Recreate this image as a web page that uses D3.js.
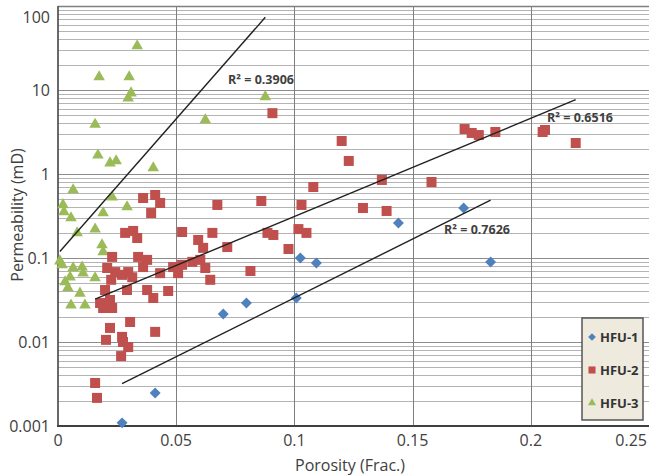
<!DOCTYPE html>
<html>
<head>
<meta charset="utf-8">
<script src="https://cdn.jsdelivr.net/npm/d3@7"></script>
<style>
body{margin:0;background:#fff;}
svg{display:block;font-family:"Open Sans",sans-serif;}
.tick_lbl{font-size:16px;fill:#404040;}
.axis_title{font-size:16px;fill:#404040;}
.r2_lbl{font-size:12.5px;font-weight:bold;fill:#404040;}
.legend_lbl{font-size:13px;font-weight:bold;fill:#333;}
</style>
</head>
<body>
<svg></svg>
<script>
// series names / colours
const series_names = ['HFU-1','HFU-2','HFU-3'];
const series_colors = ['#4f81bd','#c0504d','#9bbb59'];

// HFU-1 (porosity frac, permeability mD)
const hfu1_phi = [0.0271,0.0411,0.0699,0.0797,0.1008,0.1025,0.1093,0.144,0.1716,0.183];
const hfu1_k   = [0.00109,0.00247,0.0216,0.0291,0.0334,0.100,0.087,0.261,0.394,0.0896];

// HFU-2
const hfu2_phi = [0.0360,0.0411,0.0432,0.0394,0.0284,0.0318,0.0335,0.0525,0.0653,0.0593,
                  0.0614,0.0229,0.0339,0.0377,0.0360,0.0208,0.0242,0.0271,0.0297,0.0314,
                  0.0225,0.0432,0.0487,0.0525,0.0568,0.0602,0.0623,0.0644,0.0508,0.0466,
                  0.0377,0.0403,0.0292,0.0199,0.0178,0.0191,0.0229,0.0220,0.0305,0.0220,
                  0.0203,0.0271,0.0275,0.0297,0.0267,0.0411,0.0157,0.0165,0.108,0.0674,
                  0.0860,0.103,0.0716,0.0886,0.0911,0.1017,0.1051,0.0975,0.0814,0.0907,
                  0.120,0.123,0.137,0.129,0.139,0.158,0.172,0.175,0.178,0.185,
                  0.205,0.206,0.219];
const hfu2_k   = [0.518,0.562,0.452,0.343,0.199,0.210,0.173,0.204,0.199,0.164,
                  0.132,0.103,0.103,0.095,0.078,0.076,0.068,0.063,0.068,0.059,
                  0.055,0.066,0.078,0.083,0.090,0.095,0.076,0.055,0.066,0.0405,
                  0.0416,0.0334,0.0416,0.0416,0.0291,0.0254,0.0254,0.0316,0.0173,0.0147,
                  0.0106,0.0115,0.0100,0.0087,0.0068,0.0132,0.00325,0.00216,0.70,0.428,
                  0.477,0.428,0.135,0.199,0.188,0.221,0.199,0.128,0.070,5.3,
                  2.47,1.43,0.849,0.394,0.363,0.803,3.43,3.08,2.91,3.16,
                  3.16,3.34,2.34];

// HFU-3
const hfu3_phi = [0.0335,0.0174,0.0301,0.0309,0.0297,0.0157,0.0169,0.0220,0.0246,0.0403,
                  0.0623,0.0877,0.0064,0.0021,0.0025,0.0055,0.0191,0.0292,0.0229,0.0081,
                  0.0157,0.0186,0.0191,0.0008,0.0017,0.0064,0.0102,0.0106,0.0051,0.0030,
                  0.0157,0.0093,0.0042,0.0055,0.0114];
const hfu3_k   = [33.4,14.3,14.3,9.2,8.0,3.9,1.68,1.35,1.43,1.18,
                  4.4,8.3,0.645,0.43,0.353,0.30,0.344,0.405,0.53,0.199,
                  0.221,0.143,0.118,0.092,0.083,0.076,0.078,0.066,0.059,0.052,
                  0.058,0.038,0.044,0.0275,0.0275];

// axis ticks
const x_ticks = [0,0.05,0.1,0.15,0.2,0.25];
const x_tick_labels = ['0','0.05','0.1','0.15','0.2','0.25'];
const y_ticks = [0.001,0.01,0.1,1,10,100];
const y_tick_labels = ['0.001','0.01','0.1','1','10','100'];
const r2_labels = ['R\u00b2 = 0.7626','R\u00b2 = 0.6516','R\u00b2 = 0.3906'];

// layout
const W = 649, H = 475;
const plot = {l:58, r:649, t:6, b:426};
const r2_pos = [[444,234],[547,122],[228,84]];

function init_draw(w,h){
  return d3.select("svg").attr("width",w).attr("height",h);
}
const svg = init_draw(W,H);
const x_scale = d3.scaleLinear().domain([0,0.25]).range([plot.l,plot.r]);
const y_scale = d3.scaleLog().domain([0.001,100]).range([plot.b,plot.t]);

// exponential trendline : log10(k) = a + b*phi
function exp_fit(xs,ys){
  let ly = ys.map(v=>Math.log10(v));
  let mx = d3.mean(xs), my = d3.mean(ly);
  let sxy = d3.sum(xs,(v,i)=>(v-mx)*(ly[i]-my));
  let sxx = d3.sum(xs,v=>(v-mx)*(v-mx));
  let b = sxy/sxx, a = my - b*mx;
  let ext = d3.extent(xs);
  return ext.map(v=>({x:v, y:Math.pow(10,a+b*v)}));
}

// grid
let grid = svg.append("g");
grid.selectAll(".hminor").data(y_scale.ticks()).enter()
  .append("line").attr("x1",plot.l).attr("x2",plot.r)
  .attr("y1",d=>Math.round(y_scale(d))+0.5).attr("y2",d=>Math.round(y_scale(d))+0.5)
  .attr("stroke",d=>y_ticks.includes(d)?"#8c8c8c":"#b4b4b4").attr("stroke-width",1);
grid.selectAll(".vgrid").data(x_ticks.slice(1)).enter()
  .append("line").attr("y1",plot.t).attr("y2",plot.b)
  .attr("x1",d=>Math.round(x_scale(d))+0.5).attr("x2",d=>Math.round(x_scale(d))+0.5)
  .attr("stroke","#7f7f7f").attr("stroke-width",1);

// frame
svg.append("line").attr("x1",plot.l).attr("x2",plot.r).attr("y1",plot.t+0.5).attr("y2",plot.t+0.5)
  .attr("stroke","#7f7f7f").attr("stroke-width",1.5);
svg.append("line").attr("x1",plot.l).attr("x2",plot.l).attr("y1",plot.t).attr("y2",plot.b)
  .attr("stroke","#595959").attr("stroke-width",1.8);
svg.append("line").attr("x1",plot.l-1).attr("x2",plot.r).attr("y1",plot.b).attr("y2",plot.b)
  .attr("stroke","#404040").attr("stroke-width",2);

// tick labels
svg.selectAll(".xlbl").data(x_ticks).enter().append("text").attr("class","tick_lbl")
  .attr("x",(d,i)=> i==x_ticks.length-1 ? W-2 : x_scale(d))
  .attr("y",446)
  .attr("text-anchor",(d,i)=> i==x_ticks.length-1 ? "end" : "middle")
  .text((d,i)=>x_tick_labels[i]);
svg.selectAll(".ylbl").data(y_ticks).enter().append("text").attr("class","tick_lbl")
  .attr("x",50).attr("y",d=>Math.max(y_scale(d),17)+5.5)
  .attr("text-anchor","end")
  .text((d,i)=>y_tick_labels[i]);

// axis titles
svg.append("text").attr("class","axis_title").attr("x",350).attr("y",471)
  .attr("text-anchor","middle").text("Porosity (Frac.)");
svg.append("text").attr("class","axis_title")
  .attr("transform","translate(23,215) rotate(-90)")
  .attr("text-anchor","middle").text("Permeability (mD)");

// points
const series = [
  {phi:hfu1_phi,k:hfu1_k,sym:d3.symbolSquare,size:60,rot:45},
  {phi:hfu2_phi,k:hfu2_k,sym:d3.symbolSquare,size:100,rot:0},
  {phi:hfu3_phi,k:hfu3_k,sym:d3.symbolTriangle,size:58,rot:0}
];
let pts = svg.append("g");
[2,1,0].forEach(si=>{
  let s = series[si];
  pts.append("g").selectAll("path").data(s.phi.map((v,i)=>({x:v,y:s.k[i]}))).enter()
    .append("path")
    .attr("d",d3.symbol().type(s.sym).size(s.size))
    .attr("transform",d=>"translate("+x_scale(d.x)+","+y_scale(d.y)+") rotate("+s.rot+")")
    .attr("fill",series_colors[si]);
});

// trendlines
const line = d3.line().x(d=>x_scale(d.x)).y(d=>y_scale(d.y));
series.forEach(s=>{
  svg.append("path").attr("d",line(exp_fit(s.phi,s.k)))
    .attr("fill","none").attr("stroke","#222").attr("stroke-width",1.4);
});

// R2 labels
svg.selectAll(".r2").data(r2_labels).enter().append("text").attr("class","r2_lbl")
  .attr("x",(d,i)=>r2_pos[i][0]).attr("y",(d,i)=>r2_pos[i][1]).text(d=>d);

// legend
let lg = svg.append("g").attr("transform","translate(582,318)");
lg.append("rect").attr("width",61).attr("height",102)
  .attr("fill","#efeade").attr("stroke","#555").attr("stroke-width",1.5);
series.forEach((s,i)=>{
  let cy = 19 + i*33;
  lg.append("path").attr("d",d3.symbol().type(s.sym).size(s.size*0.5))
    .attr("transform","translate(10,"+cy+") rotate("+s.rot+")")
    .attr("fill",series_colors[i]);
  lg.append("text").attr("class","legend_lbl").attr("x",18).attr("y",cy+4.5).text(series_names[i]);
});
</script>
</body>
</html>
